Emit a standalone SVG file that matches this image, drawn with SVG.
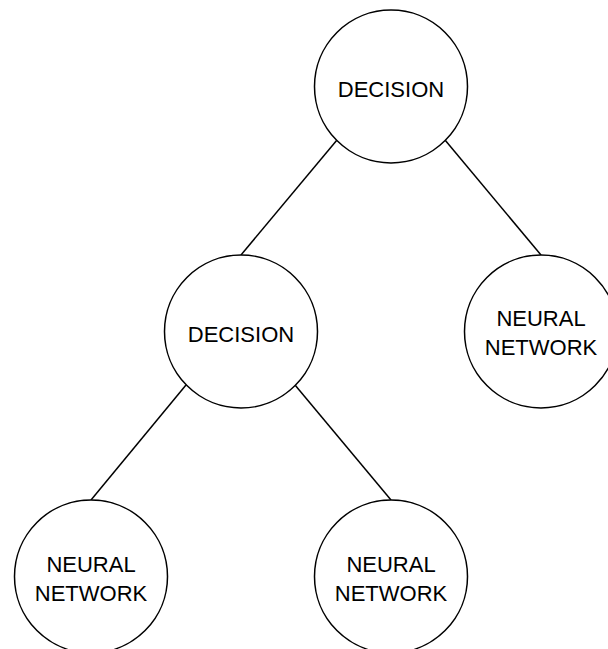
<svg xmlns="http://www.w3.org/2000/svg" width="608" height="649" viewBox="0 0 608 649">
  <style>
    .node circle { fill: #ffffff; stroke: #000000; stroke-width: 1.5; }
    .node text { font-family: "Liberation Sans", Arial, Helvetica, sans-serif; font-size: 22px; fill: #000000; text-anchor: middle; }
    .edges line { stroke: #000000; stroke-width: 1.5; }
  </style>
  <rect width="608" height="649" fill="#ffffff"/>
  <g class="edges">
    <line x1="337" y1="140" x2="241" y2="255"/>
    <line x1="445" y1="140" x2="541" y2="255"/>
    <line x1="186" y1="385" x2="91" y2="500"/>
    <line x1="295" y1="385" x2="391" y2="500"/>
  </g>
  <g id="root-decision" class="node">
    <circle cx="391" cy="86.5" r="76.5"/>
    <text x="391" y="97">DECISION</text>
  </g>
  <g id="inner-decision" class="node">
    <circle cx="241" cy="331.5" r="76.5"/>
    <text x="241" y="341.5">DECISION</text>
  </g>
  <g id="nn-right" class="node">
    <circle cx="541" cy="331.5" r="76.5"/>
    <text x="541" y="326">NEURAL</text>
    <text x="541" y="355">NETWORK</text>
  </g>
  <g id="nn-bottom-left" class="node">
    <circle cx="91" cy="576.5" r="76.5"/>
    <text x="91" y="572">NEURAL</text>
    <text x="91" y="600.5">NETWORK</text>
  </g>
  <g id="nn-bottom-mid" class="node">
    <circle cx="391" cy="576.5" r="76.5"/>
    <text x="391" y="572">NEURAL</text>
    <text x="391" y="600.5">NETWORK</text>
  </g>
</svg>
